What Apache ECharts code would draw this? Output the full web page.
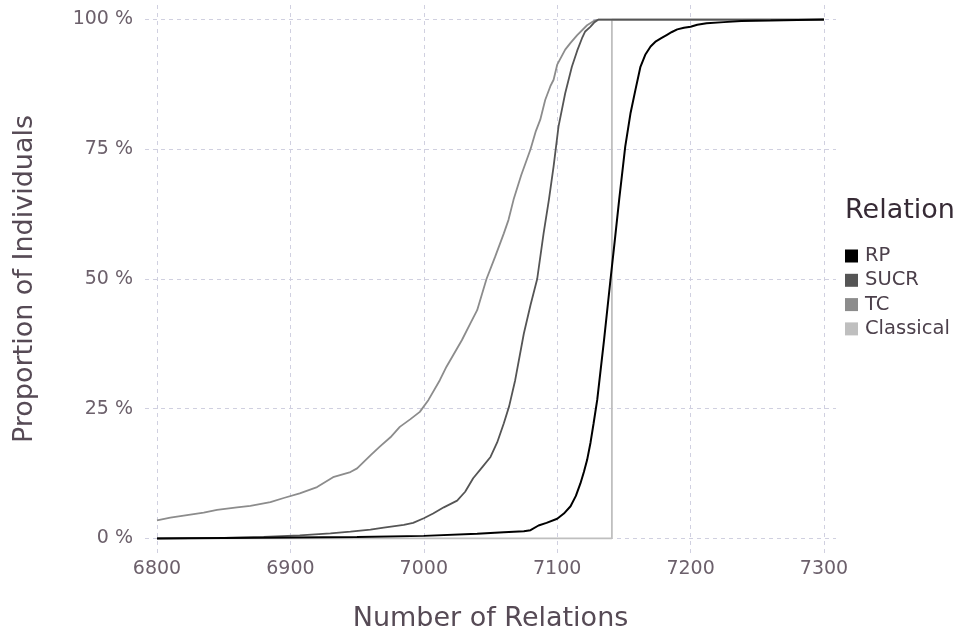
<!DOCTYPE html>
<html>
<head>
<meta charset="utf-8">
<script src="https://cdn.jsdelivr.net/npm/echarts@6/dist/echarts.min.js"></script>
<style>
  html, body { margin: 0; padding: 0; background: #ffffff; }
  #chart { width: 959px; height: 635px; }
</style>
</head>
<body>
<div id="chart"></div>
<script>
// ----- data -----
const seriesNames = ['RP', 'SUCR', 'TC', 'Classical'];
const xTicks = [6800, 6900, 7000, 7100, 7200, 7300];
const yTicks = [0, 25, 50, 75, 100];

const rpData = [
  [6800, 0], [6850, 0.1], [6900, 0.2], [6950, 0.3], [7000, 0.5], [7040, 0.9],
  [7060, 1.2], [7075, 1.4], [7080, 1.6], [7086, 2.5], [7092, 3.0], [7100, 3.8],
  [7105, 4.8], [7110, 6.2], [7114, 8.2], [7117.4, 10.6], [7120, 12.8], [7122.4, 15.1],
  [7125, 18.5], [7127.3, 22.2], [7130, 26.7], [7135, 38], [7140, 50], [7143, 57],
  [7146.5, 65.4], [7151, 75.5], [7155, 82], [7158.6, 86.4], [7162.4, 90.9], [7166, 93.2],
  [7170, 94.8], [7174, 95.8], [7178, 96.4], [7182, 97], [7186, 97.6], [7190, 98.1],
  [7195, 98.4], [7200, 98.6], [7205, 99], [7212, 99.3], [7225, 99.5], [7238, 99.7],
  [7260, 99.8], [7280, 99.9], [7300, 100]
];
const sucrData = [
  [6800, 0], [6850, 0.1], [6880, 0.3], [6907, 0.6], [6930, 1.0], [6945, 1.3],
  [6960, 1.7], [6970, 2.1], [6985, 2.6], [6992, 3.0], [7000, 3.9], [7007, 4.8],
  [7015, 6.0], [7025, 7.3], [7031, 9], [7037, 11.6], [7044, 13.8], [7050, 15.7],
  [7055, 18.5], [7060, 22.2], [7064, 25.5], [7068.5, 30.5], [7075, 39.5], [7080, 45],
  [7085, 50], [7089.8, 58.8], [7093.8, 65.3], [7097.3, 71.7], [7101, 79.4], [7106, 85.8],
  [7111, 90.9], [7115, 94], [7118.6, 96.4], [7121, 97.7], [7124.8, 98.6], [7128, 99.5],
  [7131, 100], [7300, 100]
];
const tcData = [
  [6800, 3.5], [6810, 4.0], [6820, 4.4], [6835, 5.0], [6845, 5.5], [6860, 6.0],
  [6870, 6.3], [6885, 7.0], [6895, 7.8], [6907, 8.7], [6920, 9.9], [6932, 11.8],
  [6945, 12.8], [6950, 13.5], [6960, 16], [6967, 17.7], [6975, 19.5], [6982, 21.5],
  [6990, 23], [6997, 24.4], [7003.5, 26.7], [7012, 30.5], [7017, 33.1], [7028.5, 38.2],
  [7035, 41.5], [7040, 44], [7047, 50], [7053.5, 54.3], [7060, 58.8], [7063.5, 61.4],
  [7067.3, 65.3], [7073, 70], [7080, 75], [7084, 78.5], [7087.3, 80.7], [7091, 84.5],
  [7094.8, 87.1], [7097.3, 88.4], [7100, 91.3], [7106, 94.2], [7110, 95.5], [7115, 97],
  [7122.4, 98.9], [7128, 99.8], [7131, 100], [7300, 100]
];
const classicalData = [
  [6800, 0], [7141, 0], [7141, 100], [7300, 100]
];

const colors = { RP: '#000000', SUCR: '#555555', TC: '#8c8c8c', Classical: '#bfbfbf' };

const chart = echarts.init(document.getElementById('chart'), null, { renderer: 'canvas' });
const fontFamily = "'DejaVu Sans', sans-serif";

function mkSeries(name, data) {
  return {
    name: name,
    type: 'line',
    data: data,
    showSymbol: false,
    symbol: 'none',
    color: colors[name],
    lineStyle: { color: colors[name], width: name === 'RP' ? 2 : 1.8 },
    animation: false
  };
}

chart.setOption({
  backgroundColor: '#ffffff',
  textStyle: { fontFamily: fontFamily },
  animation: false,
  grid: { left: 145, right: 123, top: 5, bottom: 82, containLabel: false, outerBoundsMode: 'none' },
  title: {
    text: 'Relation',
    left: 845, top: 197,
    padding: 0,
    textStyle: { fontFamily: fontFamily, fontSize: 27, fontWeight: 'normal', color: '#362a35' }
  },
  legend: {
    data: seriesNames,
    orient: 'vertical',
    left: 845, top: 246,
    icon: 'rect',
    itemWidth: 13, itemHeight: 13,
    itemGap: 4.3,
    padding: 0,
    itemStyle: { borderWidth: 0 },
    textStyle: { fontFamily: fontFamily, fontSize: 19.5, color: '#4c404b', padding: [0, 0, 0, 2] },
    selectedMode: false
  },
  xAxis: {
    type: 'value',
    min: 6791, max: 7309,
    name: 'Number of Relations',
    nameLocation: 'middle',
    nameGap: 52.5,
    nameTextStyle: { fontFamily: fontFamily, fontSize: 27, color: '#564a55' },
    axisLine: { show: false },
    axisTick: { show: false, customValues: xTicks },
    axisLabel: {
      customValues: xTicks,
      formatter: function (v) { return String(v); },
      fontFamily: fontFamily, fontSize: 19, color: '#6c606b', margin: 7
    },
    splitLine: { show: true, lineStyle: { color: '#d0d0e0', type: [4, 4], width: 1 } }
  },
  yAxis: {
    type: 'value',
    min: -2.8, max: 102.8,
    name: 'Proportion of Individuals',
    nameLocation: 'middle',
    nameGap: 106.5,
    nameTextStyle: { fontFamily: fontFamily, fontSize: 27, color: '#564a55' },
    axisLine: { show: false },
    axisTick: { show: false, customValues: yTicks },
    axisLabel: { customValues: yTicks, formatter: '{value} %', fontFamily: fontFamily, fontSize: 19, color: '#6c606b', margin: 12 },
    splitLine: { show: true, lineStyle: { color: '#d0d0e0', type: [4, 4], width: 1 } }
  },
  series: [
    mkSeries('Classical', classicalData),
    mkSeries('TC', tcData),
    mkSeries('SUCR', sucrData),
    mkSeries('RP', rpData)
  ]
});
</script>
</body>
</html>
